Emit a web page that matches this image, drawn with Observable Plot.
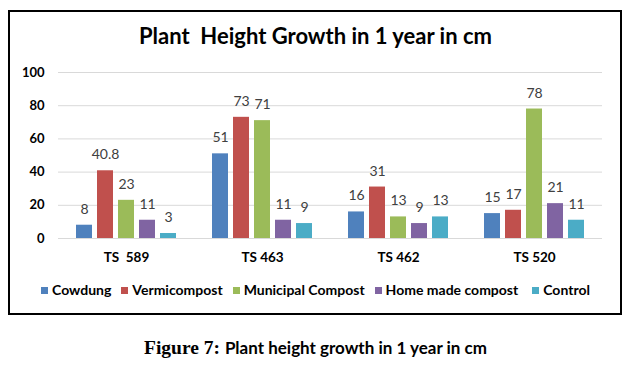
<!DOCTYPE html>
<html>
<head>
<meta charset="utf-8">
<script src="https://cdn.jsdelivr.net/npm/d3@7"></script>
<script src="https://cdn.jsdelivr.net/npm/@observablehq/plot@0.6"></script>
<style>
  body { margin: 0; background: #fff; width: 631px; height: 373px; position: relative; overflow: hidden; font-family: Lato, "Open Sans", sans-serif; }
  #frame { position: absolute; left: 8px; top: 10px; width: 610px; height: 301px; border: 2px solid #000; }
  #title { position: absolute; left: 0; width: 631px; top: 25px; text-align: center; font-size: 22px; font-weight: bold; line-height: 1; white-space: pre; color: #000; }
  #chart { position: absolute; left: 0; top: 60px; }
  #chart svg text { white-space: pre; }
  #legend { position: absolute; left: 0; width: 631px; top: 283px; display: flex; justify-content: center; font-size: 14px; font-weight: bold; line-height: 1; color: #000; }
  .item { display: flex; align-items: center; margin: 0 5px; }
  .item.last { margin-left: 9px; }
  .sw { width: 7px; height: 7px; margin-right: 4px; }
  #caption { position: absolute; left: 0; width: 631px; top: 338px; text-align: center; line-height: 1; color: #000; }
  #caption .fig { font-family: "Liberation Serif", serif; font-weight: bold; font-size: 19.5px; }
  #caption .txt { font-family: Lato, sans-serif; font-weight: bold; font-size: 17px; }
</style>
</head>
<body>
<div id="frame"></div>
<div id="title"></div>
<div id="chart"></div>
<div id="legend"></div>
<div id="caption"></div>
<script>
const titleText = "Plant  Height Growth in 1 year in cm";
const captionFig = "Figure 7:";
const captionText = "Plant height growth in 1 year in cm";
const categories = ["TS  589", "TS 463", "TS 462", "TS 520"];
const series = ["Cowdung", "Vermicompost", "Municipal Compost", "Home made compost", "Control"];
const cowdung = [8, 51, 16, 15];
const vermicompost = [40.8, 73, 31, 17];
const municipalCompost = [23, 71, 13, 78];
const homeMadeCompost = [11, 11, 9, 21];
const control = [3, 9, 13, 11];
const colors = ["#4F81BD", "#C0504D", "#9BBB59", "#8064A2", "#4BACC6"];
const yTicks = [0, 20, 40, 60, 80, 100];

const seriesValues = [cowdung, vermicompost, municipalCompost, homeMadeCompost, control];
const data = [];
categories.forEach((cat, i) => {
  series.forEach((s, j) => {
    data.push({cat, series: s, value: seriesValues[j][i]});
  });
});

document.getElementById("title").textContent = titleText;

const chart = Plot.plot({
  width: 631,
  height: 215,
  marginTop: 12,
  marginBottom: 37,
  marginLeft: 57,
  marginRight: 28,
  style: {fontFamily: "Lato, 'Open Sans', sans-serif", background: "transparent"},
  fx: {domain: categories, padding: 0, label: null},
  x: {domain: series, paddingInner: 0.24, paddingOuter: 0.82, axis: null},
  y: {domain: [0, 100], label: null},
  color: {domain: series, range: colors},
  marks: [
    Plot.gridY(yTicks, {stroke: "#d9d9d9", strokeOpacity: 1, strokeWidth: 1}),
    Plot.axisY(yTicks, {tickSize: 0, tickPadding: 14, fontSize: 13, fontWeight: "bold", fill: "#000", label: null}),
    Plot.axisFx({anchor: "bottom", tickSize: 0, tickPadding: 14, fontSize: 13.5, fontWeight: "bold", fill: "#000", label: null}),
    Plot.barY(data, {fx: "cat", x: "series", y: "value", fill: "series"}),
    Plot.text(data, {fx: "cat", x: "series", y: "value", text: d => String(d.value), dy: -16, fill: "#404040", fontSize: 14})
  ]
});
document.getElementById("chart").appendChild(chart);

const legend = document.getElementById("legend");
series.forEach((s, i) => {
  const item = document.createElement("div");
  item.className = "item" + (i === series.length - 1 ? " last" : "");
  const sw = document.createElement("span");
  sw.className = "sw";
  sw.style.background = colors[i];
  const lab = document.createElement("span");
  lab.textContent = s;
  item.appendChild(sw);
  item.appendChild(lab);
  legend.appendChild(item);
});

const cap = document.getElementById("caption");
const f = document.createElement("span");
f.className = "fig";
f.textContent = captionFig + " ";
const t = document.createElement("span");
t.className = "txt";
t.textContent = captionText;
cap.appendChild(f);
cap.appendChild(t);
</script>
</body>
</html>
